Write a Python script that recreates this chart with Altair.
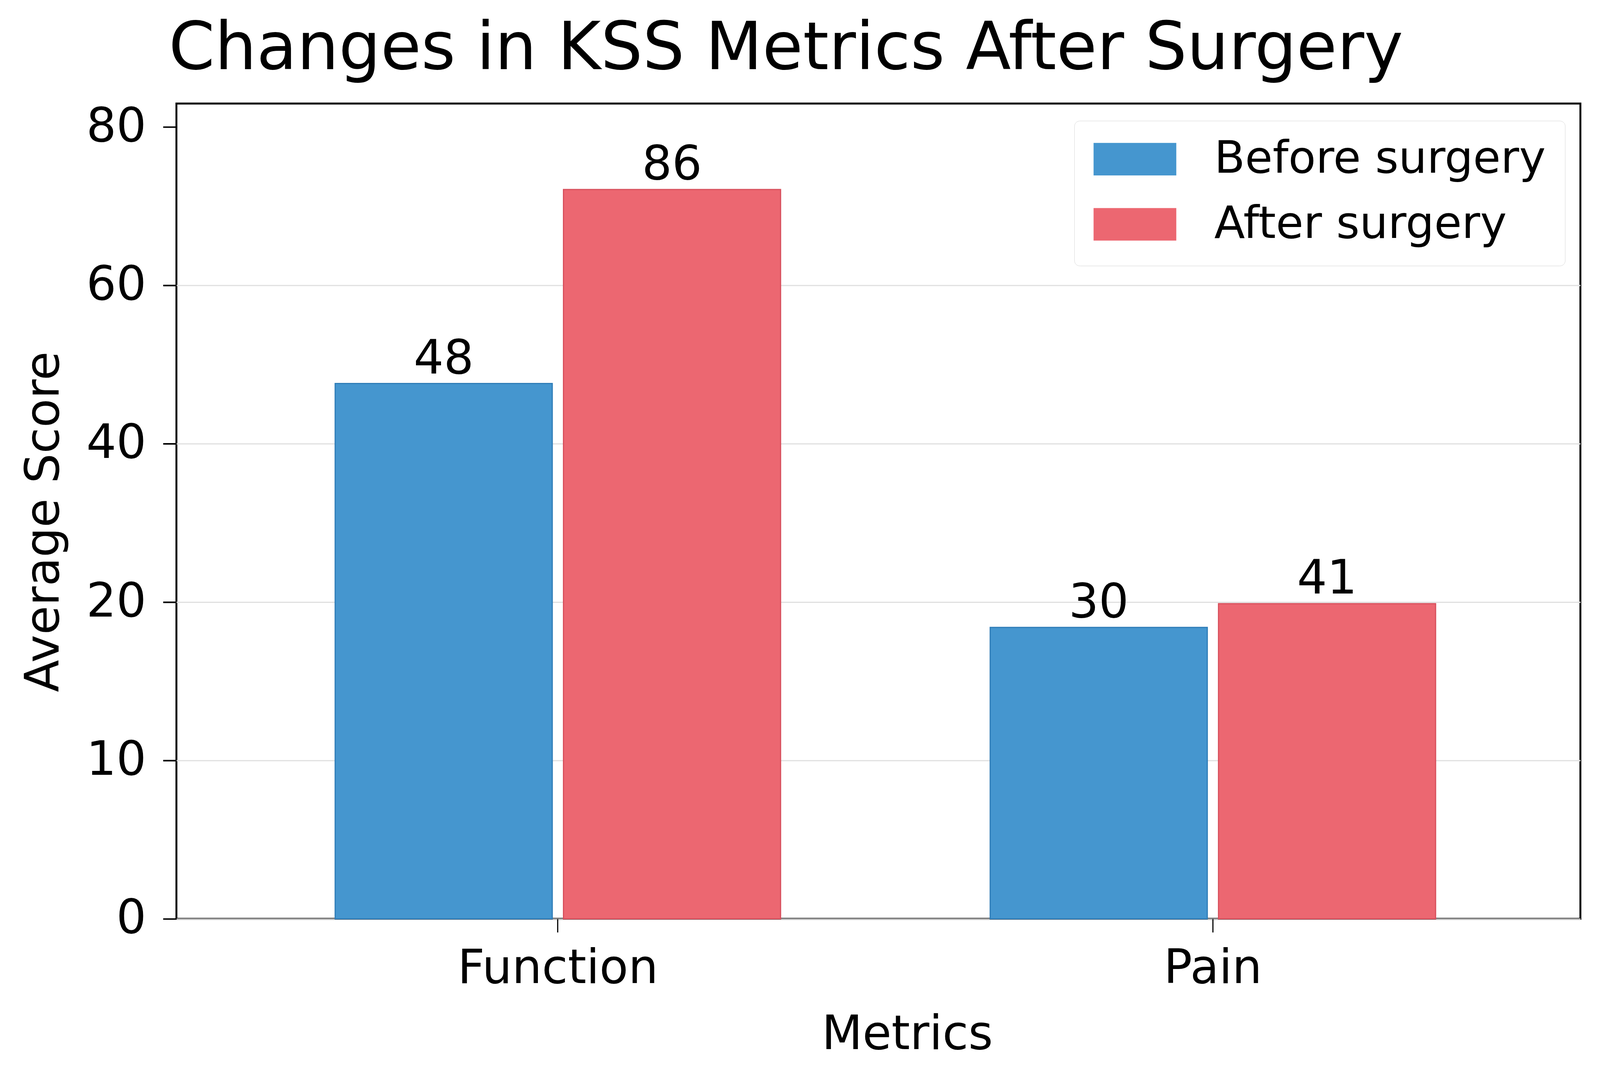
import altair as alt
import pandas as pd

# ---- data ----
categories = ["Function", "Pain"]
periods = ["Before surgery", "After surgery"]
bar_before = [47.6, 18.4]      # bar heights as drawn against the axis
bar_after = [72.1, 19.9]
label_before = [48, 30]        # numbers printed above the bars
label_after = [86, 41]
y_tick_values = [0, 10, 20, 40, 60, 80]
colors = ["#4596CF", "#EC6771"]
edge_colors = ["#2F7DB8", "#D8505D"]

rows = []
for i, c in enumerate(categories):
    rows.append({"Metric": c, "Period": periods[0], "Score": bar_before[i], "Label": label_before[i]})
    rows.append({"Metric": c, "Period": periods[1], "Score": bar_after[i], "Label": label_after[i]})
df = pd.DataFrame(rows)

W, H = 3662, 2126
FONT = "DejaVu Sans"
FS = 123

# piecewise axis: tick values are evenly spaced on the picture
step = (H - 61) / 5
y_domain = y_tick_values + [82.95]
y_range = [H - k * step for k in range(6)] + [0]

x_enc = alt.X("Metric:N", sort=categories,
              scale=alt.Scale(paddingInner=0.32, paddingOuter=0.2317, align=0.523),
              axis=alt.Axis(title="Metrics", labelAngle=0, labelFontSize=FS, titleFontSize=FS,
                            labelFont=FONT, titleFont=FONT, labelColor="#000", titleColor="#000",
                            titleFontWeight="normal", domain=False, grid=False, labelLimit=0,
                            ticks=True, tickSize=35, tickWidth=3, tickColor="#000",
                            labelPadding=35, titlePadding=50, titleX=1906))
xo_enc = alt.XOffset("Period:N", sort=periods,
                     scale=alt.Scale(paddingInner=0.049, paddingOuter=0))
y_scale = alt.Scale(domain=y_domain, range=y_range, nice=False, zero=False)

bars = alt.Chart(df).mark_bar(strokeWidth=3).encode(
    x=x_enc,
    xOffset=xo_enc,
    y=alt.Y("Score:Q", scale=y_scale,
            axis=alt.Axis(title="Average Score", values=y_tick_values, format="d",
                          labelFontSize=FS, titleFontSize=FS, labelFont=FONT, titleFont=FONT,
                          labelColor="#000", titleColor="#000", titleFontWeight="normal",
                          domain=False, grid=True, gridColor="#e0e0e0", gridWidth=3,
                          gridOpacity={"condition": {"test": "datum.value === 80", "value": 0}, "value": 1},
                          tickSize=35, tickWidth=4, tickColor="#000",
                          labelPadding=44, titlePadding=82, titleY=1090)),
    color=alt.Color("Period:N", sort=periods,
                    scale=alt.Scale(domain=periods, range=colors),
                    legend=alt.Legend(title=None, orient="none", legendX=2342, legendY=45,
                                      symbolType="M-1,-0.393H1V0.393H-1Z", symbolSize=46656,
                                      symbolStrokeWidth=0, symbolOpacity=1,
                                      clipHeight=100, rowPadding=53, labelOffset=99,
                                      labelFontSize=117, labelFont=FONT, labelColor="#000",
                                      labelLimit=0,
                                      padding=50, fillColor="#ffffff", strokeColor="#d6d6d6",
                                      cornerRadius=14)),
    stroke=alt.Stroke("Period:N", sort=periods,
                      scale=alt.Scale(domain=periods, range=edge_colors), legend=None),
)

texts = alt.Chart(df).mark_text(fontSize=FS, font=FONT, color="#000",
                                baseline="alphabetic", dy=-26).encode(
    x=alt.X("Metric:N", sort=categories),
    xOffset=alt.XOffset("Period:N", sort=periods),
    y=alt.Y("Score:Q"),
    text=alt.Text("Label:Q", format="d"),
)

chart = alt.layer(bars, texts).properties(
    width=W, height=H,
    title=alt.TitleParams("Changes in KSS Metrics After Surgery", anchor="start", frame="group",
                          fontSize=172, font=FONT, color="#000", fontWeight="normal",
                          baseline="alphabetic", offset=-82, dx=-20),
    autosize=alt.AutoSizeParams(type="none"),
    padding={"left": 452, "top": 236, "right": 43, "bottom": 380},
    background="#ffffff",
).configure_view(stroke="#000", strokeWidth=5)

chart.save("out.html", embed_options={"renderer": "svg", "actions": False})
